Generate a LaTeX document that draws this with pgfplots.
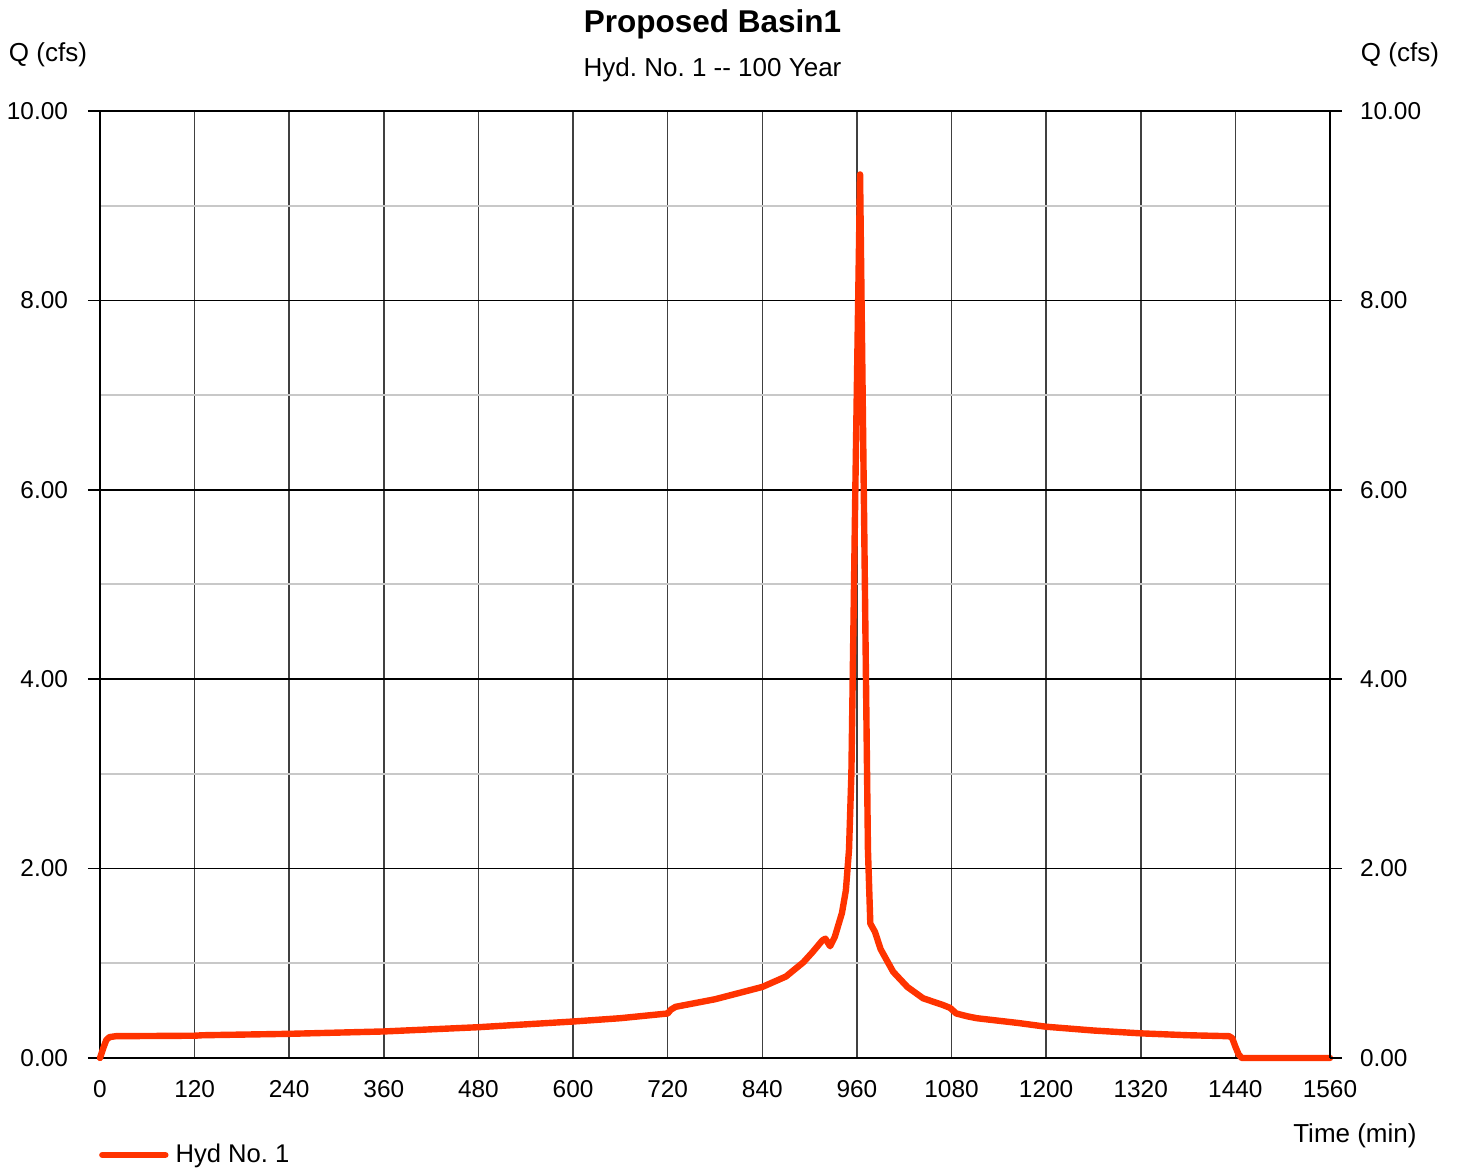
\documentclass[border=0pt]{standalone}
\usepackage{fontspec}
\setmainfont{Liberation Sans}
\usepackage{pgfplots}
\pgfplotsset{compat=1.18}
\frenchspacing
\definecolor{hyd}{RGB}{255,51,0}
\definecolor{mingrid}{RGB}{200,200,200}
\definecolor{vgrid}{RGB}{64,64,64}
\begin{document}
\begin{tikzpicture}
\begin{axis}[
  width=615pt, height=473.5pt, scale only axis,
  xmin=0, xmax=1560, ymin=0, ymax=10,
  xtick={0,120,...,1560}, ytick={0,2,...,10}, minor ytick={1,3,5,7,9},
  xmajorgrids, ymajorgrids, yminorgrids,
  major x grid style={vgrid, line width=0.75pt},
  major y grid style={black, line width=0.75pt},
  minor y grid style={mingrid, line width=1pt},
  axis line style={black, line width=0.75pt},
  tick align=outside, ytick pos=left,
  major tick length=6pt, minor tick length=0pt,
  every tick/.style={black, line width=0.75pt},
  xtick style={draw=none},
  x tick label style={yshift=-1.5pt},
  y tick label style={xshift=-6.5pt},
  tick label style={font=\fontsize{12.2}{14}\selectfont},
  /pgf/number format/assume math mode=true,
  yticklabel={\pgfmathprintnumber[fixed,fixed zerofill,precision=2]{\tick}},
  xticklabel={\pgfmathprintnumber[fixed,precision=0,1000 sep={}]{\tick}},
  legend style={at={(axis description cs:-0.001,-0.1024)}, anchor=west, draw=none, fill=none, inner sep=0pt,
    font=\fontsize{12.8}{15}\selectfont, nodes={inner sep=3.5pt}},
  legend image code/.code={\draw[#1] (0pt,0pt) -- (31.5pt,0pt);},
  clip=false,
]
\addplot[hyd, line width=3.2pt, line join=round, line cap=round] coordinates {
(0,0) (4,0.10) (8,0.19) (12,0.22) (20,0.23) (120,0.235) (130,0.24) (240,0.255)
(360,0.28) (480,0.325) (600,0.385) (660,0.42) (720,0.47) (724,0.51) (730,0.54)
(780,0.62) (840,0.75) (870,0.86) (892,1.01) (904,1.12) (916,1.24) (920,1.26)
(926,1.18) (932,1.28) (941,1.53) (946,1.77) (950,2.2) (953,3.0) (958,6.0)
(964,9.33) (969,5.8) (974,2.2) (977,1.42) (983,1.33) (990,1.15) (998,1.03)
(1006,0.91) (1024,0.75) (1044,0.63) (1069,0.56) (1078,0.53) (1086,0.47)
(1100,0.44) (1112,0.42) (1164,0.37) (1200,0.33) (1260,0.29) (1320,0.26)
(1380,0.24) (1432,0.23) (1436,0.21) (1440,0.12) (1444,0.04) (1448,0.0) (1560,0.0)
};
\addlegendentry{Hyd No. 1}
\node[font=\fontsize{15.75}{18}\selectfont\bfseries] at (axis description cs:0.498,1.0915) {Proposed Basin1};
\node[font=\fontsize{13}{15}\selectfont] at (axis description cs:0.498,1.0435) {Hyd. No. 1 -{}- 100 Year};
\node[font=\fontsize{13}{15}\selectfont] at (axis description cs:-0.0423,1.0590) {Q (cfs)};
\node[font=\fontsize{13}{15}\selectfont] at (axis description cs:1.0569,1.0590) {Q (cfs)};
\node[font=\fontsize{13}{15}\selectfont] at (axis description cs:1.0203,-0.0822) {Time (min)};
\coordinate (bl) at (axis description cs:-0.0813,-0.1172);
\coordinate (tr) at (axis description cs:1.1049,1.1172);
\end{axis}
\begin{axis}[
  width=615pt, height=473.5pt, scale only axis,
  xmin=0, xmax=1560, ymin=0, ymax=10,
  axis x line=none, axis y line*=right,
  ytick={0,2,...,10},
  axis line style={black, line width=0.75pt},
  tick align=outside, major tick length=6pt,
  every tick/.style={black, line width=0.75pt},
  y tick label style={xshift=5.5pt},
  tick label style={font=\fontsize{12.2}{14}\selectfont},
  /pgf/number format/assume math mode=true,
  yticklabel={\pgfmathprintnumber[fixed,fixed zerofill,precision=2]{\tick}},
]
\end{axis}
\pgfresetboundingbox
\path[use as bounding box] (bl) rectangle (tr);
\end{tikzpicture}
\end{document}
